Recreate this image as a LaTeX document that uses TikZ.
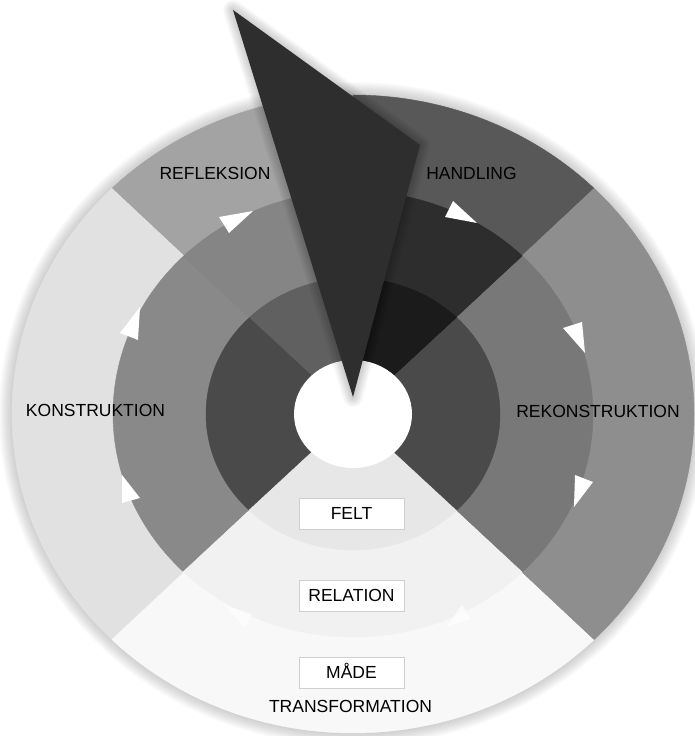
\documentclass[tikz,border=0pt]{standalone}
\usepackage{fontspec}
\setmainfont{Liberation Sans}
\definecolor{oRef}{HTML}{A3A3A3}
\definecolor{oHan}{HTML}{585858}
\definecolor{oRek}{HTML}{8E8E8E}
\definecolor{oKon}{HTML}{E1E1E1}
\definecolor{oTra}{HTML}{F8F8F8}
\definecolor{mRef}{HTML}{858585}
\definecolor{mHan}{HTML}{2D2D2D}
\definecolor{mRek}{HTML}{787878}
\definecolor{mKon}{HTML}{898989}
\definecolor{mTra}{HTML}{F1F1F1}
\definecolor{iRef}{HTML}{606060}
\definecolor{iHan}{HTML}{1B1B1B}
\definecolor{iRek}{HTML}{4A4A4A}
\definecolor{iKon}{HTML}{4A4A4A}
\definecolor{iTra}{HTML}{E7E7E7}
\definecolor{arrowgray}{HTML}{2E2E2E}
\definecolor{boxline}{HTML}{CFCFCF}
\newcommand\pieslice[5]{%
  \path[fill=#1,draw=#1,line width=0.4pt] (C) -- ++(#2:#4pt and #5pt)
    arc[start angle=#2,end angle=#3,x radius=#4pt,y radius=#5pt] -- cycle;}
\begin{document}
\begin{tikzpicture}[x=1pt,y=1pt,
  lbl/.style={font=\fontsize{17.5}{20}\selectfont, text height=12.6pt, text depth=0pt, inner sep=0pt},
  lblbox/.style={lbl, draw=boxline, fill=white, line width=0.8pt, minimum width=105pt, minimum height=31pt},
  tri/.style={fill=white, draw=none}]
\useasboundingbox (0,0) rectangle (694,736);
\coordinate (C) at (353,322);
% soft shadow of the disc
\foreach \i in {1,...,10}
  \fill[black,opacity=0.018] (C) ellipse[x radius={341pt+\i*1.3pt}, y radius={319pt+\i*1.3pt}];
% outer ring
\pieslice{oHan}{45}{90}{341}{319}
\pieslice{oRef}{90}{135}{341}{319}
\pieslice{oKon}{135}{225}{341}{319}
\pieslice{oTra}{225}{315}{341}{319}
\pieslice{oRek}{-45}{45}{341}{319}
% middle ring
\pieslice{mHan}{45}{90}{240}{223}
\pieslice{mRef}{90}{135}{240}{223}
\pieslice{mKon}{135}{225}{240}{223}
\pieslice{mTra}{225}{315}{240}{223}
\pieslice{mRek}{-45}{45}{240}{223}
% inner ring
\pieslice{iHan}{45}{90}{147}{136}
\pieslice{iRef}{90}{135}{147}{136}
\pieslice{iKon}{135}{225}{147}{136}
\pieslice{iTra}{225}{315}{147}{136}
\pieslice{iRek}{-45}{45}{147}{136}
% faint seam between refleksion and konstruktion
\draw[color=black!50,opacity=0.5,line width=0.5pt] (C) ++(135:147pt and 136pt) -- ++(135:93pt and 87pt);
% white centre
\fill[white] (C) ellipse[x radius=59pt, y radius=54pt];
% pointer shadow and pointer
\coordinate (pA) at (233,726);
\coordinate (pB) at (420,591);
\coordinate (pC) at (353,339);
\foreach \w in {2,4,...,20}
  \draw[black,opacity=0.02,line width=\w pt,line join=round] (pA) -- (pB) -- (pC) -- cycle;
\fill[arrowgray] (pA) -- (pB) -- (pC) -- cycle;
% white arrowheads
\fill[tri] (219,519) -- (253,525) -- (229,503) -- cycle;
\fill[tri] (453,535) -- (445,519) -- (477,513) -- cycle;
\fill[tri] (563,408) -- (582,414) -- (585,383) -- cycle;
\fill[tri] (575,261) -- (593,254) -- (574,229) -- cycle;
\fill[tri] (140,429) -- (120,403) -- (138,396) -- cycle;
\fill[tri] (122,261) -- (140,238) -- (122,233) -- cycle;
\fill[tri,opacity=0.7] (226,130) -- (252,122) -- (245,108) -- cycle;
\fill[tri,opacity=0.7] (447,110) -- (462,131) -- (471,117) -- cycle;
% labels
\node[lbl] (refl) at (215,562.5) {REFLEKSION};
\node[lbl] (hand) at (471.5,562.5) {HANDLING};
\node[lbl] (kons) at (95.5,326) {KONSTRUKTION};
\node[lbl] (rekon) at (598,324.5) {REKONSTRUKTION};
\node[lblbox] (felt) at (351.5,222.5) {FELT};
\node[lblbox] (rel) at (351.5,140.5) {RELATION};
\node[lblbox] (made) at (351.5,63.5) {MÅDE};
\node[lbl] (trans) at (350.5,29.5) {TRANSFORMATION};
\end{tikzpicture}
\end{document}
